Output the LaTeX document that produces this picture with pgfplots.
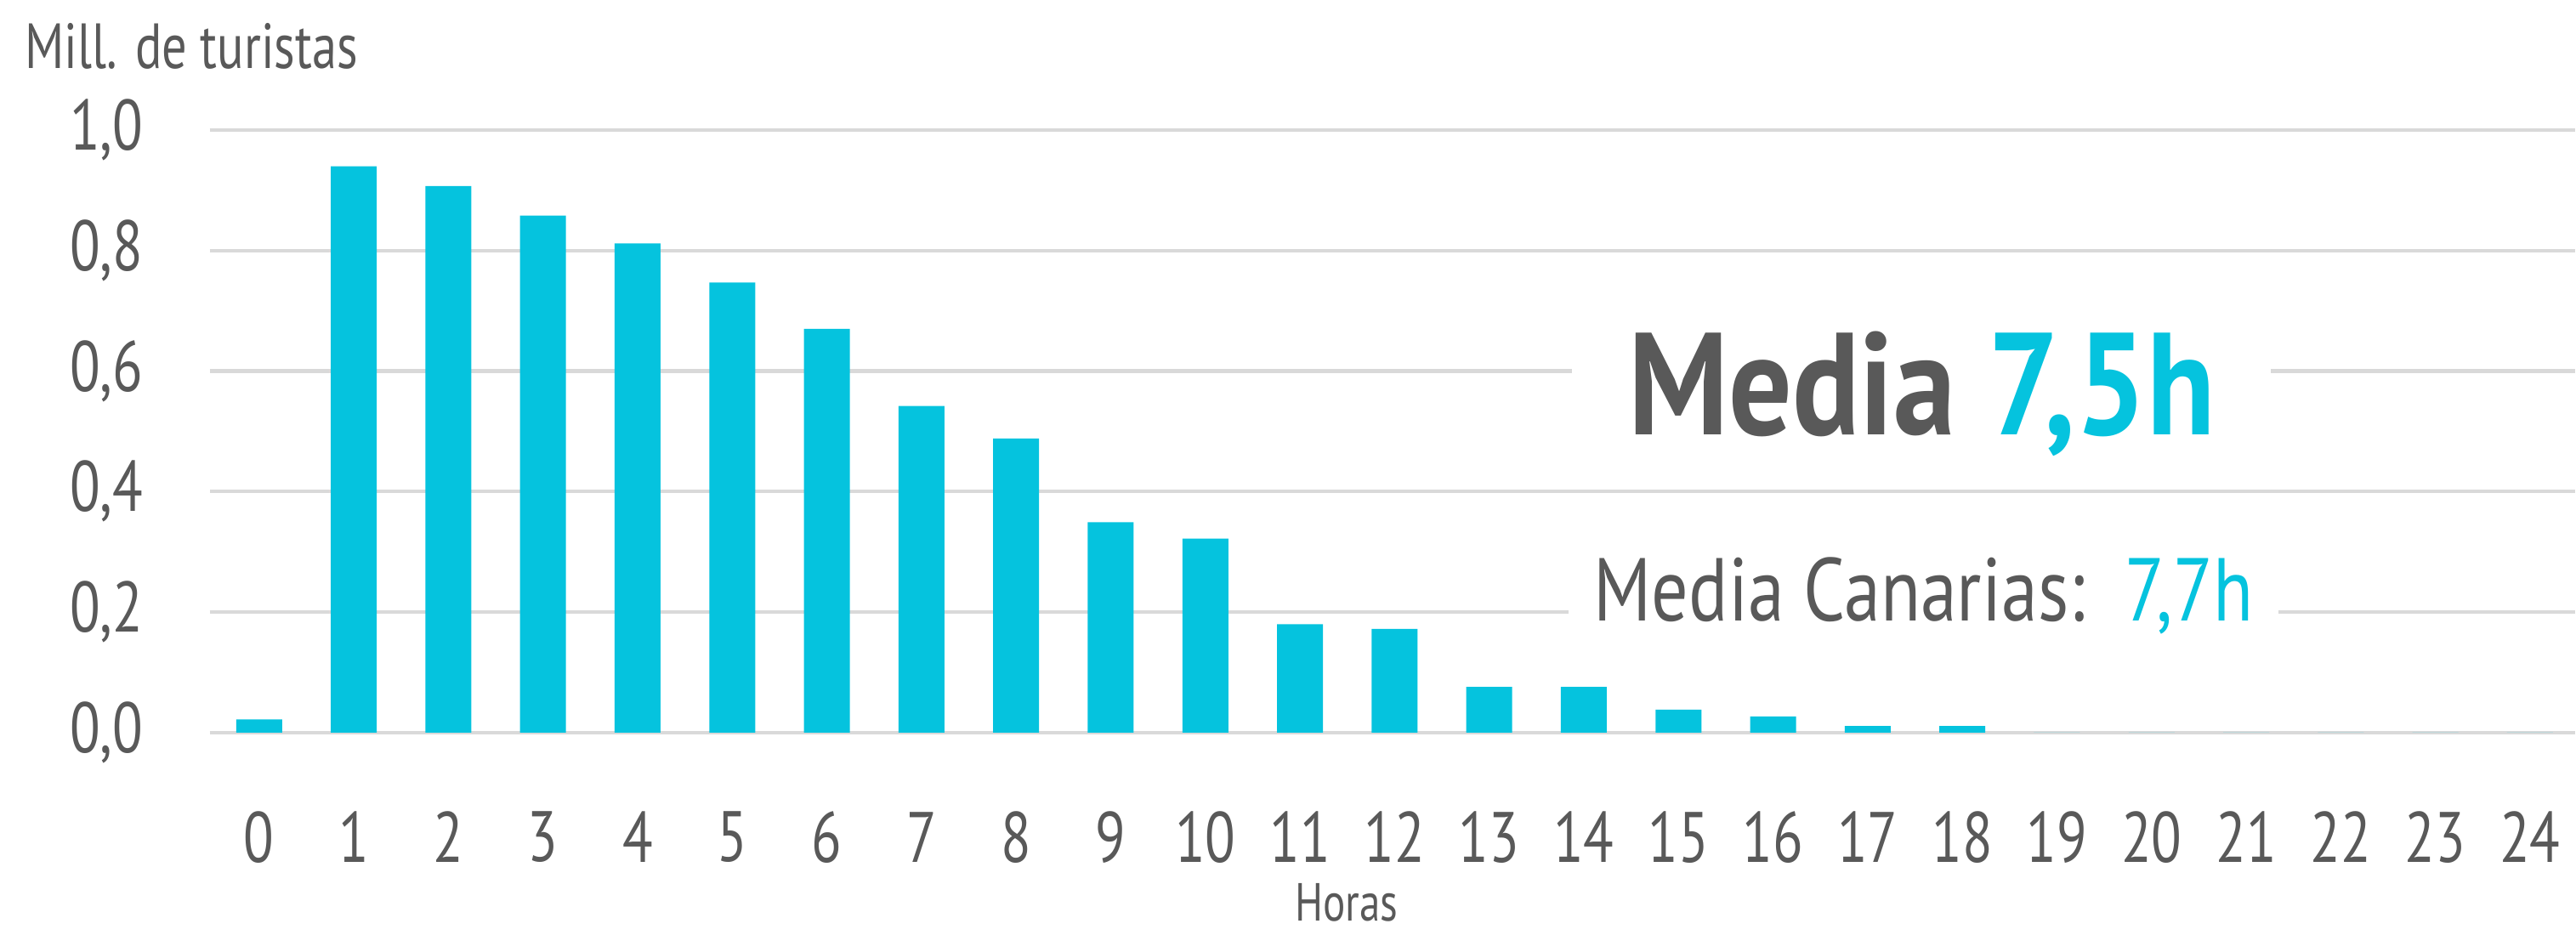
\documentclass[border=0pt]{standalone}
\usepackage{fontspec}
\setmainfont{PT Sans}[FakeStretch=0.78]
\newfontfamily\bignarrow{PT Sans}[FakeStretch=0.863]
\newfontfamily\midnarrow{PT Sans}[FakeStretch=0.82]
\usepackage{pgfplots}
\pgfplotsset{compat=1.18}
\definecolor{barc}{HTML}{05C3DE}
\definecolor{txt}{HTML}{595959}
\definecolor{gridc}{HTML}{D9D9D9}
\begin{document}
\begin{tikzpicture}
\path[use as bounding box, clip] (-82.3pt,-79.3pt) rectangle (927.7pt,287.3pt);
\begin{axis}[
  at={(0pt,0pt)}, anchor=south west,
  scale only axis, width=927.5pt, height=236.3pt,
  xmin=-0.52, xmax=24.48, ymin=0, ymax=1,
  clip=false,
  ybar, bar width=18pt,
  axis line style={draw=none},
  major tick length=0pt,
  ymajorgrids, grid style={gridc, line width=1.4pt},
  xtick={0,1,...,24},
  ytick={0,0.2,0.4,0.6,0.8,1},
  /pgf/number format/assume math mode=true,
  yticklabel style={/pgf/number format/use comma, /pgf/number format/fixed, /pgf/number format/fixed zerofill, /pgf/number format/precision=1},
  xticklabel style={anchor=center, inner sep=0pt, yshift=-41pt},
  yticklabel style={anchor=east, inner sep=0pt, xshift=-26pt},
  tick label style={text=txt, font=\fontsize{28}{30}\selectfont},
]
\addplot[fill=barc, draw=none] coordinates {
(0,0.022) (1,0.940) (2,0.907) (3,0.858) (4,0.812) (5,0.747) (6,0.670)
(7,0.542) (8,0.488) (9,0.349) (10,0.322) (11,0.180) (12,0.172)
(13,0.076) (14,0.076) (15,0.038) (16,0.027) (17,0.011) (18,0.011)
(19,0) (20,0) (21,0) (22,0) (23,0) (24,0)
};
\node[fill=white, inner xsep=22pt, inner ysep=8pt, anchor=base, text=txt,
  font=\bignarrow\bfseries\fontsize{57}{60}\selectfont] at (axis cs:17.57,0.494)
  {Media \textcolor{barc}{7,5h}};
\node[fill=white, inner xsep=10pt, inner ysep=8pt, anchor=base, text=txt,
  font=\midnarrow\fontsize{35}{38}\selectfont] at (axis cs:17.59,0.186)
  {Media Canarias:\hspace{0.45em}\textcolor{barc}{7,7h}};
\end{axis}
\node[anchor=west, inner sep=0pt, text=txt, font=\fontsize{25}{27}\selectfont] at (-72.6pt,269.3pt) {Mill. de turistas};
\node[anchor=base, inner sep=0pt, text=txt, font=\fontsize{21}{23}\selectfont] at (445.7pt,-74pt) {Horas};
\end{tikzpicture}
\end{document}
